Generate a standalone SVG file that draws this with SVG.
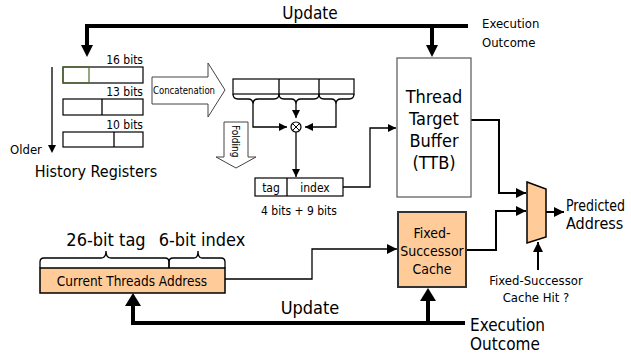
<svg xmlns="http://www.w3.org/2000/svg" width="631" height="354" viewBox="0 0 631 354">
<defs>
<marker id="ah" viewBox="0 0 10 10" refX="10" refY="5" markerWidth="10" markerHeight="10" markerUnits="userSpaceOnUse" orient="auto"><path d="M0,0 L10,5 L0,10 z" fill="#000"/></marker>
<marker id="ahs" viewBox="0 0 10 10" refX="10" refY="5" markerWidth="8" markerHeight="8" markerUnits="userSpaceOnUse" orient="auto"><path d="M0,0 L10,5 L0,10 z" fill="#000"/></marker>
</defs>
<style>
text{font-family:"DejaVu Sans Condensed","DejaVu Sans","Liberation Sans",sans-serif;font-stretch:condensed;fill:#000}
.thin{fill:none;stroke:#000;stroke-width:1.3}
.reg{fill:#fff;stroke:#000;stroke-width:1.2}
.peach{fill:#FFCC99;stroke:#000;stroke-width:1.5}
.thick{fill:none;stroke:#000;stroke-width:4}
.bigarrow{fill:#fff;stroke:#444;stroke-width:1}
</style>
<rect width="631" height="354" fill="#fff"/>

<g id="connectors">
  <!-- top update bus -->
  <path class="thick" d="M468,26 H87 V46"/>
  <path d="M81,45 L93,45 L87,57 z" fill="#000"/>
  <path class="thick" d="M432,26 V46"/>
  <path d="M426,45 L438,45 L432,57 z" fill="#000"/>
  <!-- older arrow -->
  <path class="thin" d="M52,67 V146"/>
  <path d="M48,145 L56,145 L52,153 z" fill="#000"/>
  <!-- concat register braces to xor -->
  <path class="thin" d="M253,104 V127 H287" marker-end="url(#ahs)"/>
  <path class="thin" d="M336,104 V127 H305" marker-end="url(#ahs)"/>
  <path class="thin" d="M296,104 V118" marker-end="url(#ahs)"/>
  <path class="thin" d="M296,132 V177" marker-end="url(#ahs)"/>
  <!-- tag/index to TTB -->
  <path class="thin" d="M343,187 H370 V128 H396" marker-end="url(#ahs)"/>
  <!-- TTB to mux -->
  <path d="M471,120 H499 V193 H526" fill="none" stroke="#000" stroke-width="2" marker-end="url(#ah)"/>
  <!-- FSC to mux -->
  <path d="M466,250 H496 V211 H526" fill="none" stroke="#000" stroke-width="2" marker-end="url(#ah)"/>
  <!-- mux out -->
  <path d="M546,212 H564" fill="none" stroke="#000" stroke-width="2" marker-end="url(#ah)"/>
  <!-- hit signal -->
  <path d="M538,270 V242" fill="none" stroke="#000" stroke-width="2" marker-end="url(#ah)"/>
  <!-- CTA to FSC -->
  <path class="thin" d="M225,279 H312 V249 H397" marker-end="url(#ah)"/>
  <!-- bottom update bus -->
  <path class="thick" d="M465,323 H133 V304"/>
  <path d="M125,306 L141,306 L133,293 z" fill="#000"/>
  <path class="thick" d="M428,323 V300"/>
  <path d="M420,301 L436,301 L428,288 z" fill="#000"/>
</g>

<g id="labels">
  <text x="310" y="19" font-size="17" text-anchor="middle">Update</text>
  <text x="482" y="28" font-size="13">Execution</text>
  <text x="482" y="47" font-size="13">Outcome</text>
  <text x="310" y="314" font-size="18" text-anchor="middle">Update</text>
  <text x="470" y="331" font-size="17">Execution</text>
  <text x="470" y="350" font-size="17">Outcome</text>
  <text x="10" y="154" font-size="13">Older</text>
  <text x="96" y="177" font-size="16" text-anchor="middle">History Registers</text>
  <text x="299" y="215" font-size="12" text-anchor="middle">4 bits + 9 bits</text>
</g>

<g id="history-registers">
  <text x="143" y="64" font-size="12" text-anchor="end">16 bits</text>
  <rect class="reg" x="63" y="67" width="80" height="16"/>
  <rect x="63" y="67" width="26" height="16" fill="none" stroke="#556b2f" stroke-width="1.2"/>
  <text x="143" y="96" font-size="12" text-anchor="end">13 bits</text>
  <rect class="reg" x="63" y="99" width="80" height="16"/>
  <path class="thin" d="M102,99 V115"/>
  <text x="143" y="129" font-size="12" text-anchor="end">10 bits</text>
  <rect class="reg" x="63" y="132" width="80" height="15"/>
  <path class="thin" d="M114,132 V147"/>
</g>

<g id="concatenation">
  <path class="bigarrow" d="M152,77 H208 V63 L225,90 L208,117 V104 H152 z"/>
  <text x="153" y="94" font-size="10" textLength="62" lengthAdjust="spacingAndGlyphs">Concatenation</text>
</g>

<g id="folding">
  <path class="bigarrow" d="M224,122 H248 V157 H256 L236,168 L216,157 H224 z"/>
  <text transform="translate(232,125) rotate(90)" font-size="10">Folding</text>
</g>

<g id="concat-register">
  <rect class="reg" x="233" y="79" width="121" height="15"/>
  <path class="thin" d="M279,79 V94 M319,79 V94"/>
  <path class="thin" d="M233,94 Q233,99 238,99 H248 Q253,99 253,104 Q253,99 258,99 H274 Q279,99 279,94"/>
  <path class="thin" d="M279,94 Q279,99 284,99 H291 Q296,99 296,104 Q296,99 301,99 H314 Q319,99 319,94"/>
  <path class="thin" d="M319,94 Q319,99 324,99 H331 Q336,99 336,104 Q336,99 341,99 H349 Q354,99 354,94"/>
</g>

<g id="xor">
  <circle cx="296" cy="127" r="5" fill="#fff" stroke="#000" stroke-width="1.2"/>
  <path d="M292.5,123.5 L299.5,130.5 M299.5,123.5 L292.5,130.5" stroke="#000" stroke-width="1"/>
</g>

<g id="tag-index">
  <rect class="reg" x="255" y="178" width="88" height="18"/>
  <path class="thin" d="M287,178 V196"/>
  <text x="271" y="192" font-size="12" text-anchor="middle">tag</text>
  <text x="315" y="192" font-size="12" text-anchor="middle">index</text>
</g>

<g id="ttb">
  <rect x="397" y="58" width="74" height="139" fill="#fff" stroke="#555" stroke-width="1.2"/>
  <text x="434" y="103" font-size="18" text-anchor="middle">Thread</text>
  <text x="434" y="125" font-size="18" text-anchor="middle">Target</text>
  <text x="434" y="147" font-size="18" text-anchor="middle">Buffer</text>
  <text x="434" y="169" font-size="18" text-anchor="middle">(TTB)</text>
</g>

<g id="fsc">
  <rect x="398" y="212" width="68" height="75" fill="#FFCC99" stroke="#333" stroke-width="2"/>
  <text x="432" y="238" font-size="14" text-anchor="middle">Fixed-</text>
  <text x="432" y="256" font-size="14" text-anchor="middle">Successor</text>
  <text x="432" y="274" font-size="14" text-anchor="middle">Cache</text>
</g>

<g id="mux">
  <path class="peach" d="M527,182 L546,189 L546,237 L527,243 z"/>
  <text x="566" y="211" font-size="15" textLength="59" lengthAdjust="spacingAndGlyphs">Predicted</text>
  <text x="566" y="229" font-size="16">Address</text>
  <text x="536" y="285" font-size="13" text-anchor="middle">Fixed-Successor</text>
  <text x="536" y="302" font-size="13" text-anchor="middle">Cache Hit ?</text>
</g>

<g id="current-threads-address">
  <rect class="peach" x="40" y="268" width="185" height="25"/>
  <text x="132" y="286" font-size="13.5" text-anchor="middle">Current Threads Address</text>
  <path class="thin" d="M40,268 V262 Q40,258 44,258 H101 Q106,258 106,251 Q106,258 111,258 H165 Q169,258 169,262 V268"/>
  <path class="thin" d="M169,268 V262 Q169,258 173,258 H194 Q198,258 198,251 Q198,258 202,258 H221 Q225,258 225,262 V268"/>
  <text x="106" y="246" font-size="18" text-anchor="middle">26-bit tag</text>
  <text x="202" y="246" font-size="18" text-anchor="middle">6-bit index</text>
</g>
</svg>
